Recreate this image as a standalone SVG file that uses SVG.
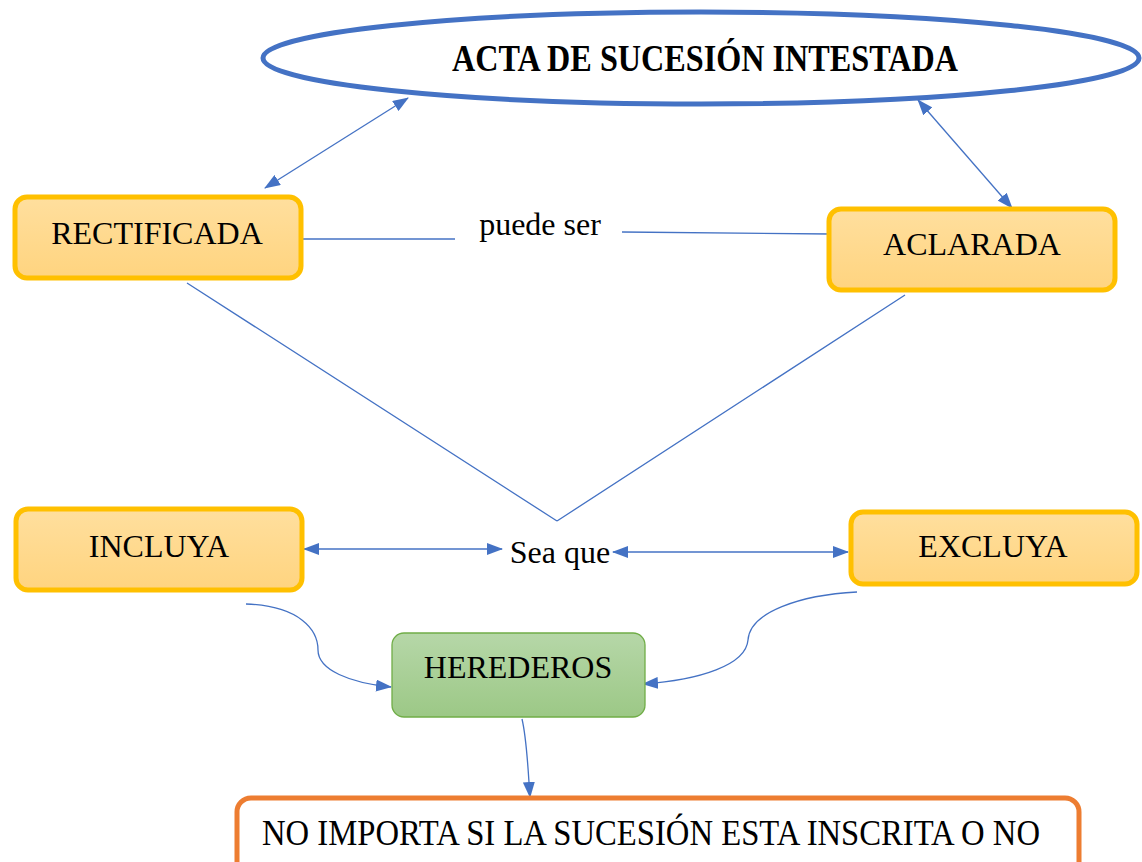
<svg xmlns="http://www.w3.org/2000/svg" width="1142" height="862" viewBox="0 0 1142 862">
<style>
.t{font-family:"Liberation Serif","Times New Roman",serif;fill:#000;}
.c{fill:none;stroke:#4472C4;stroke-width:1.3;}
.yb{fill:url(#gy);stroke:#FFC000;stroke-width:5;}
</style>
<defs>
<linearGradient id="gy" x1="0" y1="0" x2="0" y2="1"><stop offset="0" stop-color="#FFDF9E"/><stop offset="1" stop-color="#FFD47F"/></linearGradient>
<linearGradient id="gg" x1="0" y1="0" x2="0" y2="1"><stop offset="0" stop-color="#B6D7A8"/><stop offset="1" stop-color="#9CC886"/></linearGradient>
<marker id="ae" viewBox="0 0 16 12" refX="15" refY="6" markerWidth="16" markerHeight="12" markerUnits="userSpaceOnUse" orient="auto"><path d="M0,0 L16,6 L0,12 Z" fill="#4472C4"/></marker>
<marker id="as" viewBox="0 0 16 12" refX="1" refY="6" markerWidth="16" markerHeight="12" markerUnits="userSpaceOnUse" orient="auto"><path d="M16,0 L0,6 L16,12 Z" fill="#4472C4"/></marker>
</defs>
<rect width="1142" height="862" fill="#fff"/>
<g id="connectors">
<path class="c" d="M265,188 L408,98" marker-start="url(#as)" marker-end="url(#ae)"/>
<path class="c" d="M918,100 L1012,208" marker-start="url(#as)" marker-end="url(#ae)"/>
<path class="c" d="M302,239 L455,239"/>
<path class="c" d="M622,232 L830,234"/>
<path class="c" d="M187,283 L557,521 M557,521 L905,295"/>
<path class="c" d="M304,549 L502,549" marker-start="url(#as)" marker-end="url(#ae)"/>
<path class="c" d="M613,552 L848,552" marker-start="url(#as)" marker-end="url(#ae)"/>
<path class="c" d="M246,604 C300,606 318,630 318,650 C318,670 350,683 391,687" marker-end="url(#ae)"/>
<path class="c" d="M857,592 C800,595 750,612 748,640 C746,665 700,680 643,684" marker-end="url(#ae)"/>
<path class="c" d="M522,719 C527,740 528,770 530,797" marker-end="url(#ae)"/>
</g>
<g id="acta">
<ellipse cx="701" cy="58" rx="438" ry="46" fill="#fff" stroke="#4472C4" stroke-width="5"/>
<text class="t" x="705" y="71" font-size="37" font-weight="bold" text-anchor="middle" textLength="506" lengthAdjust="spacingAndGlyphs">ACTA DE SUCESIÓN INTESTADA</text>
</g>
<g id="rectificada">
<rect class="yb" x="15" y="197" width="286" height="81" rx="12"/>
<text class="t" x="157" y="244" font-size="32" text-anchor="middle">RECTIFICADA</text>
</g>
<g id="aclarada">
<rect class="yb" x="829" y="209" width="286" height="81" rx="12"/>
<text class="t" x="972" y="255" font-size="32" text-anchor="middle">ACLARADA</text>
</g>
<g id="puede">
<text class="t" x="540" y="235" font-size="32" text-anchor="middle">puede ser</text>
</g>
<g id="incluya">
<rect class="yb" x="16" y="509" width="286" height="81" rx="12"/>
<text class="t" x="159" y="557" font-size="32" text-anchor="middle">INCLUYA</text>
</g>
<g id="seaque">
<text class="t" x="560" y="563" font-size="32" text-anchor="middle">Sea que</text>
</g>
<g id="excluya">
<rect class="yb" x="851" y="512" width="286" height="72" rx="12"/>
<text class="t" x="993" y="557" font-size="32" text-anchor="middle">EXCLUYA</text>
</g>
<g id="herederos">
<rect x="392" y="633" width="253" height="84" rx="12" fill="url(#gg)" stroke="#70AD47" stroke-width="1.3"/>
<text class="t" x="518" y="678" font-size="32" text-anchor="middle">HEREDEROS</text>
</g>
<g id="noimporta">
<rect x="237" y="798" width="842" height="80" rx="14" fill="#fff" stroke="#ED7D31" stroke-width="5"/>
<text class="t" x="651" y="845" font-size="36" text-anchor="middle" textLength="778" lengthAdjust="spacingAndGlyphs">NO IMPORTA SI LA SUCESIÓN ESTA INSCRITA O NO</text>
</g>
</svg>
